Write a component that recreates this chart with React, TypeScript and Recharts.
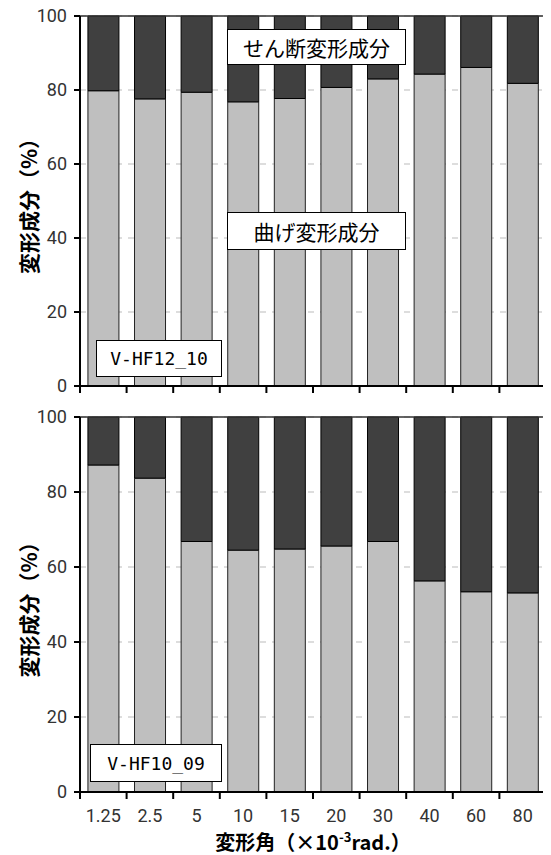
import { BarChart, Bar, XAxis, YAxis, CartesianGrid, ReferenceLine } from "recharts";

const angles = ["1.25", "2.5", "5", "10", "15", "20", "30", "40", "60", "80"];

// V-HF12_10
const bendingA = [79.8, 77.6, 79.4, 76.8, 77.7, 80.7, 83.0, 84.3, 86.1, 81.8];
const shearA = [20.2, 22.4, 20.6, 23.2, 22.3, 19.3, 17.0, 15.7, 13.9, 18.2];

// V-HF10_09
const bendingB = [87.2, 83.7, 66.8, 64.5, 64.8, 65.6, 66.8, 56.3, 53.4, 53.1];
const shearB = [12.8, 16.3, 33.2, 35.5, 35.2, 34.4, 33.2, 43.7, 46.6, 46.9];

const yTicks = [0, 20, 40, 60, 80, 100];

const W = 551;
const LEFT = 80;
const RIGHT = 5;
const BAND = (W - LEFT - RIGHT) / angles.length;

const tickFont = "Roboto, 'Liberation Sans', sans-serif";
const jpFont = "'Noto Sans CJK JP', sans-serif";

const toRows = (bending: number[], shear: number[]) =>
  angles.map((a, i) => ({ angle: a, bending: bending[i], shear: shear[i] }));

const BoundaryTick = (props: any) => {
  const { x, y, payload, index, showLabel } = props;
  return (
    <g>
      {index === 0 && (
        <line x1={x - BAND / 2} y1={y} x2={x - BAND / 2} y2={y + 7} stroke="#000" strokeWidth={2} />
      )}
      <line x1={x + BAND / 2} y1={y} x2={x + BAND / 2} y2={y + 7} stroke="#000" strokeWidth={2} />
      {showLabel && (
        <text x={x} y={y + 30} textAnchor="middle" fontSize={18} fontFamily={tickFont} fill="#333">
          {payload.value}
        </text>
      )}
    </g>
  );
};

const YLabel = ({ viewBox }: any) => {
  const cy = viewBox.y + viewBox.height / 2;
  return (
    <text
      x={28}
      y={cy}
      transform={`rotate(-90 28 ${cy})`}
      textAnchor="middle"
      dominantBaseline="central"
      fontSize={21}
      fontWeight={700}
      fontFamily={jpFont}
      fill="#000"
    >
      変形成分（%）
    </text>
  );
};

const XLabel = ({ viewBox }: any) => {
  const cx = viewBox.x + viewBox.width / 2;
  return (
    <text x={cx} y={viewBox.y + 58} textAnchor="middle" fontSize={20} fontWeight={700} fontFamily={jpFont} fill="#000">
      変形角（×10
      <tspan fontSize={13} dy={-8}>-3</tspan>
      <tspan dy={8}>rad.）</tspan>
    </text>
  );
};

interface PanelProps {
  rows: { angle: string; bending: number; shear: number }[];
  height: number;
  top: number;
  xHeight: number;
  showLabels: boolean;
}

const Panel = ({ rows, height, top, xHeight, showLabels }: PanelProps) => (
  <BarChart
    width={W}
    height={height}
    data={rows}
    margin={{ top, right: RIGHT, bottom: 0, left: 0 }}
    barCategoryGap="17%"
  >
    <CartesianGrid vertical={false} strokeDasharray="6 6" stroke="#bbb" />
    <XAxis
      dataKey="angle"
      height={xHeight}
      interval={0}
      tickSize={0}
      tickMargin={0}
      tickLine={false}
      axisLine={{ stroke: "#000", strokeWidth: 2 }}
      tick={(p: any) => <BoundaryTick {...p} showLabel={showLabels} />}
      label={showLabels ? <XLabel /> : undefined}
    />
    <YAxis
      width={LEFT}
      domain={[0, 100]}
      ticks={yTicks}
      interval={0}
      tickSize={6}
      tickMargin={7}
      tickLine={{ stroke: "#000", strokeWidth: 2 }}
      axisLine={{ stroke: "#000", strokeWidth: 2 }}
      tick={{ fontSize: 18, fontFamily: tickFont, fill: "#333" }}
      label={<YLabel />}
    />
    <YAxis
      yAxisId="frame"
      orientation="right"
      width={0}
      domain={[0, 100]}
      tick={false}
      tickLine={false}
      axisLine={{ stroke: "#666", strokeWidth: 1 }}
    />
    <Bar dataKey="bending" stackId="s" fill="#bfbfbf" stroke="#222" strokeWidth={1} isAnimationActive={false} />
    <Bar dataKey="shear" stackId="s" fill="#404040" stroke="#000" strokeWidth={1} isAnimationActive={false} />
    <ReferenceLine y={100} stroke="#333" strokeWidth={1.5} />
  </BarChart>
);

const boxStyle = (left: number, top: number, width: number, height: number, font: string, size: number) => ({
  position: "absolute" as const,
  left,
  top,
  width,
  height,
  boxSizing: "border-box" as const,
  border: "1px solid #000",
  background: "#fff",
  display: "flex",
  alignItems: "center",
  justifyContent: "center",
  fontFamily: font,
  fontSize: size,
  color: "#000",
});

export default function App() {
  return (
    <div style={{ position: "relative", width: W, height: 855, margin: "-8px 0 0 -8px", background: "#fff" }}>
      <div style={{ position: "absolute", left: 0, top: 0 }}>
        <Panel rows={toRows(bendingA, shearA)} height={400} top={16} xHeight={14} showLabels={false} />
      </div>
      <div style={{ position: "absolute", left: 0, top: 400 }}>
        <Panel rows={toRows(bendingB, shearB)} height={455} top={17} xHeight={63} showLabels={true} />
      </div>
      <div style={boxStyle(227, 29, 179, 36, jpFont, 21)}>せん断変形成分</div>
      <div style={boxStyle(227, 212, 179, 38, jpFont, 21)}>曲げ変形成分</div>
      <div style={boxStyle(96, 340, 126, 37, "'DejaVu Sans Mono', monospace", 18)}>V-HF12_10</div>
      <div style={boxStyle(90, 744, 132, 38, "'DejaVu Sans Mono', monospace", 18)}>V-HF10_09</div>
    </div>
  );
}
